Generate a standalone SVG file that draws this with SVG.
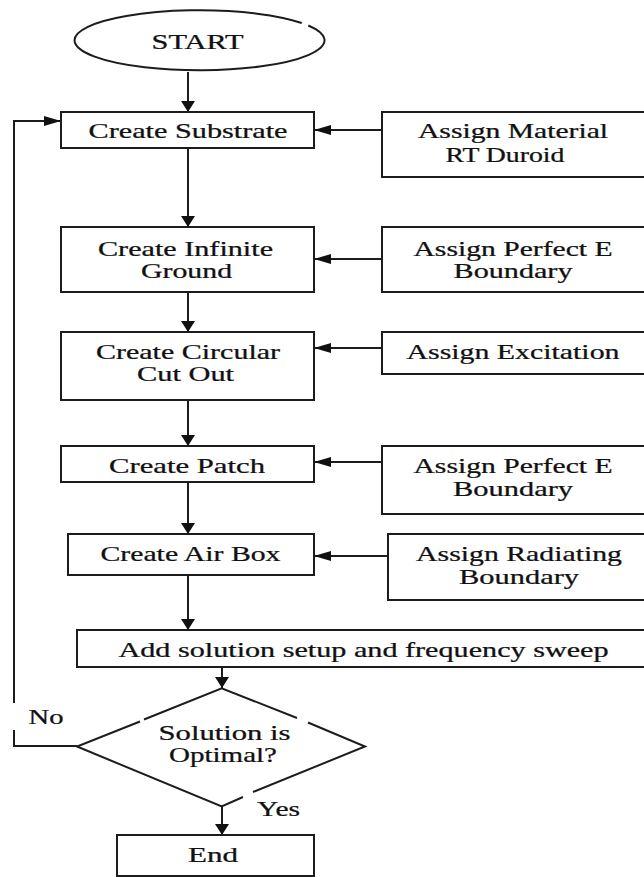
<svg xmlns="http://www.w3.org/2000/svg" width="644" height="877" viewBox="0 0 644 877">
<style>
.b{fill:#fff;stroke:#1c1c1c;stroke-width:2}
.c{fill:none;stroke:#1c1c1c;stroke-width:2}
.t{font-family:"Liberation Serif","Times New Roman",serif;font-size:20px;fill:#111;stroke:#111;stroke-width:0.25;text-anchor:middle}
</style>
<defs>
<marker id="aV" markerWidth="11" markerHeight="14" refX="11" refY="7" orient="auto" markerUnits="userSpaceOnUse"><path d="M0,0 L11,7 L0,14 z" fill="#111"/></marker>
<marker id="aH" markerWidth="17" markerHeight="10" refX="17" refY="5" orient="auto" markerUnits="userSpaceOnUse"><path d="M0,0 L17,5 L0,10 z" fill="#111"/></marker>
</defs>
<rect width="644" height="877" fill="#fff"/>
<g id="connectors">
<path class="c" d="M188,72 V112" marker-end="url(#aV)"/>
<path class="c" d="M188,148 V227" marker-end="url(#aV)"/>
<path class="c" d="M188,292 V332" marker-end="url(#aV)"/>
<path class="c" d="M188,400 V446" marker-end="url(#aV)"/>
<path class="c" d="M188,482 V534" marker-end="url(#aV)"/>
<path class="c" d="M188,575 V630" marker-end="url(#aV)"/>
<path class="c" d="M222,667 V688" marker-end="url(#aV)"/>
<path class="c" d="M222,806 V835" marker-end="url(#aV)"/>
<path class="c" d="M382,130 H314" marker-end="url(#aH)"/>
<path class="c" d="M382,259 H314" marker-end="url(#aH)"/>
<path class="c" d="M382,348 H314" marker-end="url(#aH)"/>
<path class="c" d="M382,462 H314" marker-end="url(#aH)"/>
<path class="c" d="M388,556 H314" marker-end="url(#aH)"/>
<path class="c" d="M77,746 H14 V730"/>
<path class="c" d="M14,703 V121 H61" marker-end="url(#aH)"/>
</g>
<g id="start">
<path class="b" d="M308.3,25.5 A125,30 0 1 1 301.7,23"/>
<text class="t" transform="translate(197.5,49) scale(1.5,1)" textLength="61.3" lengthAdjust="spacingAndGlyphs">START</text>
</g>
<g id="create-substrate">
<rect class="b" x="61" y="112" width="253" height="36"/>
<text class="t" transform="translate(188,138) scale(1.5,1)" textLength="132.7" lengthAdjust="spacingAndGlyphs">Create Substrate</text>
</g>
<g id="assign-material">
<rect class="b" x="382" y="112" width="270" height="65"/>
<text class="t" transform="translate(513,138) scale(1.5,1)" textLength="126.7" lengthAdjust="spacingAndGlyphs">Assign Material</text>
<text class="t" transform="translate(505,162) scale(1.5,1)" textLength="79.3" lengthAdjust="spacingAndGlyphs">RT Duroid</text>
</g>
<g id="create-infinite-ground">
<rect class="b" x="61" y="227" width="253" height="65"/>
<text class="t" transform="translate(185.5,256) scale(1.5,1)" textLength="116.7" lengthAdjust="spacingAndGlyphs">Create Infinite</text>
<text class="t" transform="translate(186.5,278) scale(1.5,1)" textLength="60.7" lengthAdjust="spacingAndGlyphs">Ground</text>
</g>
<g id="assign-perfect-e-1">
<rect class="b" x="382" y="227" width="270" height="65"/>
<text class="t" transform="translate(513,256) scale(1.5,1)" textLength="132.7" lengthAdjust="spacingAndGlyphs">Assign Perfect E</text>
<text class="t" transform="translate(513,278) scale(1.5,1)" textLength="79.3" lengthAdjust="spacingAndGlyphs">Boundary</text>
</g>
<g id="create-circular-cut-out">
<rect class="b" x="61" y="332" width="253" height="68"/>
<text class="t" transform="translate(188,359) scale(1.5,1)" textLength="122.7" lengthAdjust="spacingAndGlyphs">Create Circular</text>
<text class="t" transform="translate(185.5,381) scale(1.5,1)" textLength="64.7" lengthAdjust="spacingAndGlyphs">Cut Out</text>
</g>
<g id="assign-excitation">
<rect class="b" x="382" y="332" width="270" height="42"/>
<text class="t" transform="translate(513,359) scale(1.5,1)" textLength="142" lengthAdjust="spacingAndGlyphs">Assign Excitation</text>
</g>
<g id="create-patch">
<rect class="b" x="61" y="446" width="253" height="36"/>
<text class="t" transform="translate(187,473) scale(1.5,1)" textLength="104" lengthAdjust="spacingAndGlyphs">Create Patch</text>
</g>
<g id="assign-perfect-e-2">
<rect class="b" x="382" y="446" width="270" height="68"/>
<text class="t" transform="translate(513,473) scale(1.5,1)" textLength="132.7" lengthAdjust="spacingAndGlyphs">Assign Perfect E</text>
<text class="t" transform="translate(513,496) scale(1.5,1)" textLength="80" lengthAdjust="spacingAndGlyphs">Boundary</text>
</g>
<g id="create-air-box">
<rect class="b" x="68" y="534" width="246" height="41"/>
<text class="t" transform="translate(190.5,561) scale(1.5,1)" textLength="120" lengthAdjust="spacingAndGlyphs">Create Air Box</text>
</g>
<g id="assign-radiating-boundary">
<rect class="b" x="388" y="534" width="264" height="66"/>
<text class="t" transform="translate(519,561) scale(1.5,1)" textLength="137.3" lengthAdjust="spacingAndGlyphs">Assign Radiating</text>
<text class="t" transform="translate(519,584) scale(1.5,1)" textLength="80" lengthAdjust="spacingAndGlyphs">Boundary</text>
</g>
<g id="add-solution">
<rect class="b" x="77" y="630" width="575" height="37"/>
<text class="t" transform="translate(363.5,657) scale(1.5,1)" textLength="326.7" lengthAdjust="spacingAndGlyphs">Add solution setup and frequency sweep</text>
</g>
<g id="decision">
<path class="c" d="M140,721.5 L77,746.5 L221.7,806.5 L243,797 M253,792 L365,746.5 L308,722.5 M297,718 L221.7,688.3 L144,719.5"/>
<text class="t" transform="translate(224.5,740) scale(1.5,1)" textLength="88" lengthAdjust="spacingAndGlyphs">Solution  is</text>
<text class="t" transform="translate(223,762) scale(1.5,1)" textLength="72" lengthAdjust="spacingAndGlyphs">Optimal?</text>
</g>
<g id="labels">
<text class="t" transform="translate(46,724) scale(1.5,1)" textLength="23.3" lengthAdjust="spacingAndGlyphs">No</text>
<text class="t" transform="translate(278.5,816) scale(1.5,1)" textLength="28.7" lengthAdjust="spacingAndGlyphs">Yes</text>
</g>
<g id="end">
<rect class="b" x="117" y="835" width="197" height="41"/>
<text class="t" transform="translate(213,862) scale(1.5,1)" textLength="33.3" lengthAdjust="spacingAndGlyphs">End</text>
</g>
</svg>
